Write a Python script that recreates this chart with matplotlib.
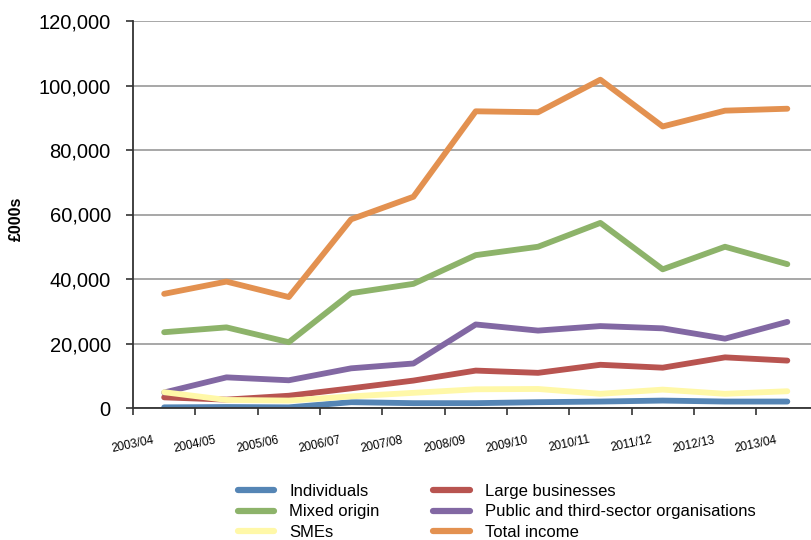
import matplotlib
matplotlib.use("Agg")
import matplotlib.pyplot as plt
from matplotlib.ticker import FuncFormatter, FixedLocator

years = ['2003/04', '2004/05', '2005/06', '2006/07', '2007/08', '2008/09',
         '2009/10', '2010/11', '2011/12', '2012/13', '2013/04']
individuals = [200, 300, 200, 1800, 1500, 1500, 1800, 2000, 2300, 2000, 2000]
large = [3300, 2600, 3800, 6100, 8500, 11600, 10900, 13400, 12500, 15700, 14700]
mixed = [23500, 25000, 20400, 35600, 38500, 47400, 50000, 57400, 43000, 50000, 44600]
public = [4800, 9500, 8600, 12300, 13800, 25900, 24000, 25400, 24700, 21500, 26700]
smes = [4900, 2500, 2300, 3600, 4700, 5800, 5900, 4400, 5700, 4400, 5200]
total = [35400, 39200, 34400, 58500, 65500, 92000, 91700, 101800, 87300, 92200, 92800]

series = [
    ("Individuals", individuals, "#5585B5"),
    ("Large businesses", large, "#B85450"),
    ("Mixed origin", mixed, "#8DB36A"),
    ("Public and third-sector organisations", public, "#8268A3"),
    ("SMEs", smes, "#FFF8A8"),
    ("Total income", total, "#E39150"),
]

plt.rcParams['font.family'] = ['Liberation Sans', 'DejaVu Sans']

fig = plt.figure(figsize=(8.11, 5.40), dpi=100)
ax = fig.add_axes([133/811, 1 - 408/540, 1 - 133/811, (408 - 21)/540])

x = list(range(len(years)))
handles = {}
for name, vals, col in series:
    h, = ax.plot(x, vals, color=col, lw=4.2, solid_capstyle='round',
                 solid_joinstyle='round', label=name)
    handles[name] = h

ax.set_ylim(0, 120000)
ax.set_xlim(-0.5, 10.38)
ax.yaxis.set_major_locator(FixedLocator(range(0, 120001, 20000)))
ax.yaxis.set_major_formatter(FuncFormatter(lambda v, p: f"{v:,.0f}"))
ax.grid(axis='y', color='#A0A0A0', lw=1.3)
ax.set_axisbelow(True)

ax.set_xticks([i - 0.5 for i in x])
ax.set_xticklabels(years, rotation=12, fontsize=8.6, ha='center', va='center')
ax.tick_params(axis='x', direction='out', length=5, width=1.2, pad=21, color='#333333')
ax.tick_params(axis='y', direction='out', length=5, width=1.2, labelsize=14.5, pad=11, color='#333333')

for s in ['top', 'right']:
    ax.spines[s].set_visible(False)
ax.spines['left'].set_color('#333333')
ax.spines['left'].set_linewidth(1.3)
ax.spines['bottom'].set_color('#333333')
ax.spines['bottom'].set_linewidth(1.3)

ax.set_ylabel('£000s', fontsize=11.5, fontweight='bold')
ax.yaxis.set_label_coords(-(133 - 24) / (811 - 133), 0.49)

order = ["Individuals", "Mixed origin", "SMEs", "Large businesses",
         "Public and third-sector organisations", "Total income"]
leg = fig.legend([handles[n] for n in order], order, loc='upper left',
                 bbox_to_anchor=(231/811, 1 - 477/540), ncol=2, frameon=False,
                 fontsize=12, handlelength=2.2, handletextpad=0.9,
                 columnspacing=3.2, labelspacing=0.34, borderaxespad=0)
for lh in leg.get_lines():
    lh.set_linewidth(4.5)

fig.savefig('out.png', dpi=100)
